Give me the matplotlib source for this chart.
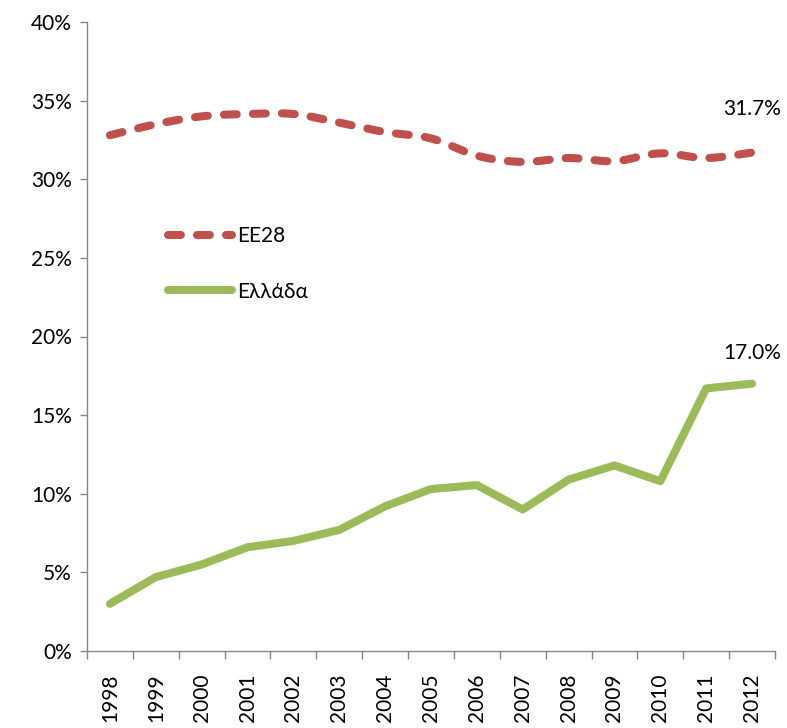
import numpy as np
import matplotlib
matplotlib.use("Agg")
import matplotlib.pyplot as plt
from matplotlib.lines import Line2D

years = [str(y) for y in range(1998, 2013)]
ee28 = [32.8, 33.5, 34.0, 34.15, 34.15, 33.6, 33.0, 32.6, 31.5, 31.1, 31.35, 31.15, 31.65, 31.35, 31.7]
greece = [3.0, 4.7, 5.5, 6.6, 7.0, 7.7, 9.2, 10.3, 10.55, 9.0, 10.9, 11.8, 10.8, 16.7, 17.0]
yticks = [0, 5, 10, 15, 20, 25, 30, 35, 40]

RED = "#C0504D"
GREEN = "#9BBB59"
plt.rcParams['font.family'] = ['Lato', 'DejaVu Sans']
FS = 15
DASH = (0, (1.6, 2.0))


def smooth(xs, ys, n=20):
    # Bezier curve through the points (like Excel smoothed line)
    xs = np.asarray(xs, float); ys = np.asarray(ys, float)
    P = np.column_stack([xs, ys])
    P = np.vstack([P[0], P, P[-1]])
    out = []
    for i in range(1, len(P) - 2):
        p0, p1, p2, p3 = P[i - 1], P[i], P[i + 1], P[i + 2]
        t = np.linspace(0, 1, n, endpoint=False)[:, None]
        c1 = p1 + (p2 - p0) / 6
        c2 = p2 - (p3 - p1) / 6
        seg = ((1 - t) ** 3) * p1 + 3 * ((1 - t) ** 2) * t * c1 + 3 * (1 - t) * t ** 2 * c2 + t ** 3 * p2
        out.append(seg)
    out.append(P[-2][None, :])
    out = np.vstack(out)
    return out[:, 0], out[:, 1]


fig = plt.figure(figsize=(7.87, 7.28), dpi=100)
ax = fig.add_axes([87 / 787, 77 / 728, (775 - 87) / 787, (651 - 22) / 728])

x = np.arange(len(years))
sx, sy = smooth(x, ee28)
ax.plot(sx, sy, color=RED, lw=5.8, linestyle=DASH, dash_capstyle='round', solid_capstyle='round')
ax.plot(x, greece, color=GREEN, lw=5.8, solid_capstyle='round', solid_joinstyle='round')

ax.set_xlim(-0.5, len(years) - 0.5)
ax.set_ylim(0, 40)
ax.set_yticks(yticks)
ax.set_yticklabels([f"{v}%" for v in yticks], fontsize=FS)
ax.set_xticks(x)
ax.set_xticklabels(years, rotation=90, fontsize=FS)
ax.set_xticks(np.arange(-0.5, len(years), 1), minor=True)
ax.tick_params(axis='x', which='major', length=0, pad=16)
ax.tick_params(axis='x', which='minor', length=6, color='#868686', width=1)
ax.tick_params(axis='y', length=5, color='#868686', width=1, pad=6)

for s in ['top', 'right']:
    ax.spines[s].set_visible(False)
for s in ['left', 'bottom']:
    ax.spines[s].set_color('#868686')
    ax.spines[s].set_linewidth(1)

ax.annotate(f"{ee28[-1]:.1f}%", (x[-1], ee28[-1]), xytext=(0, 31), textcoords='offset points',
            ha='center', va='center', fontsize=FS)
ax.annotate(f"{greece[-1]:.1f}%", (x[-1], greece[-1]), xytext=(0, 22), textcoords='offset points',
            ha='center', va='center', fontsize=FS)

handles = [Line2D([], [], color=RED, lw=5.8, linestyle=DASH, dash_capstyle='round'),
           Line2D([], [], color=GREEN, lw=5.8, solid_capstyle='round')]
ax.legend(handles, ["EE28", "Ελλάδα"], loc='upper left', bbox_to_anchor=(0.09, 0.705),
          frameon=False, fontsize=FS, handlelength=3.1, labelspacing=1.7, handletextpad=0.25)

fig.savefig("out.png", dpi=100)
